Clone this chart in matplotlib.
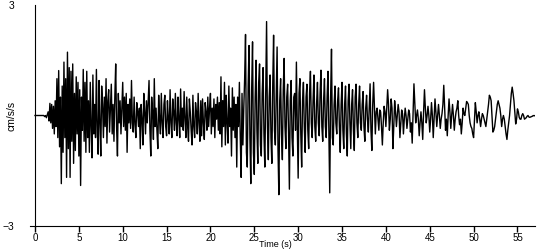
import numpy as np
import matplotlib.pyplot as plt

plt.rcParams['font.family'] = ['Liberation Sans', 'DejaVu Sans']

# ==========================
# Data (cm/s/s), one sample every 0.1 s, one row per second
# ==========================
dt = 0.1
accel = [
    0, 0, 0, 0, 0, 0, 0, 0, 0, 0,
    0.0, -0.03, 0.0, -0.06, 0.02, 0.1, -0.15, 0.33, -0.2, 0.3,
    -0.35, 0.25, -0.5, 0.4, -0.3, 1.0, -0.6, 1.22, -0.85, 0.5,
    -1.85, 0.8, -1.0, 1.45, -0.6, 1.0, -1.68, 1.72, -0.9, 1.3,
    -1.68, 1.2, -0.7, 1.4, -1.3, 0.6, -0.95, 1.05, -0.5, 0.9,
    -1.1, 0.7, -1.9, 0.5, -0.4, 1.25, -0.7, 0.9, -1.0, 1.2,
    -0.6, 0.4, -1.0, 0.9, -0.3, -1.15, 1.1, -0.5, 0.3, -0.6,
    1.25, -0.4, -1.05, 0.95, -0.2, -1.1, 0.8, 0.3, -0.6, 0.5,
    -0.3, 1.0, -0.75, 0.4, 0.7, -0.45, 0.2, 0.85, -0.5, 0.3,
    -0.7, 0.5, 1.4, -0.3, -1.1, 0.6, -0.2, 0.4, -0.5, 0.2,
    0.9, -0.3, 0.5, -0.4, 0.6, -1.0, 0.3, -0.2, 0.45, -0.35,
    0.95, -0.2, -0.45, 0.5, -0.25, -0.6, 0.35, 0.1, -0.3, 0.2,
    -0.9, 0.3, -0.1, -0.8, 0.6, 0.1, -0.5, 0.4, -0.2, 0.35,
    0.95, -0.4, -1.1, 0.5, 0.1, -0.65, 1.0, -0.3, 0.2, -0.4,
    -0.9, 0.55, -0.1, -0.5, 0.6, -0.2, -0.6, 0.3, 0.55, -0.3,
    -0.55, 0.4, -0.1, -0.5, 0.7, -0.2, -0.6, 0.45, 0.1, -0.4,
    0.6, -0.2, -0.55, 0.5, -0.1, -0.6, 0.72, -0.3, 0.2, -0.4,
    0.65, -0.1, -0.6, 0.5, -0.3, -0.7, 0.45, 0.1, -0.4, -0.8,
    0.55, -0.3, -0.6, 0.35, 0.1, -0.5, 0.6, -0.2, -0.7, 0.4,
    -0.55, 0.45, -0.2, -0.65, 0.35, 0.1, -0.4, 0.5, -0.3, 0.2,
    0.6, -0.5, 0.2, -0.3, 0.45, -0.6, 0.3, -0.1, 0.5, -0.4,
    0.35, -0.5, 1.05, -0.85, 0.4, -0.3, 0.9, -0.8, 0.55, -0.2,
    -0.75, 0.8, -0.3, 0.2, -1.1, 0.75, -0.4, 0.5, -0.6, 0.3,
    -1.4, 0.5, -0.3, 0.9, -0.6, -1.68, 0.6, -0.8, 0.2, 1.0,
    2.2, -1.0, -1.4, 0.8, 1.9, -0.6, -1.85, 0.7, 2.0, -1.0,
    -1.6, 0.5, 1.5, -0.4, -1.3, 0.9, 1.4, -0.8, -1.1, 0.6,
    1.3, -0.5, -1.4, 0.6, 2.55, -0.3, -1.2, 0.5, 1.1, -0.6,
    -1.3, 0.8, 2.18, -0.4, -0.8, 0.6, 1.86, -0.9, -2.15, 0.4,
    1.0, -0.5, -1.2, 0.7, 1.55, -0.3, -0.9, 0.5, 0.85, -0.4,
    -2.0, 0.4, 0.95, -0.6, -1.1, 0.5, 0.6, -0.4, 1.45, -0.3,
    -1.7, 0.6, 1.0, -0.5, -1.4, 0.4, 0.9, -0.3, -1.0, 0.5,
    0.85, -0.4, -0.9, 0.6, 1.2, -0.2, -0.6, 0.4, 1.1, -0.3,
    -0.7, 0.3, 0.9, -0.2, -0.55, 0.6, 1.23, -0.3, -0.7, 0.4,
    1.0, -0.3, -0.6, 0.5, 1.2, -0.4, -2.1, 0.5, 1.8, -0.6,
    -0.8, 0.3, 0.8, -0.2, -0.5, 0.4, 0.75, -0.3, -1.0, 0.3,
    0.9, -0.4, -0.9, 0.3, 0.8, -0.5, -1.1, 0.4, 0.85, -0.2,
    -0.9, 0.3, 0.7, -0.4, -0.95, 0.5, 0.85, -0.2, -0.6, 0.3,
    0.8, -0.2, -0.4, 0.3, 0.65, -0.3, -0.7, 0.2, 0.55, -0.1,
    -0.45, 0.2, 0.86, -0.4, -0.95, 0.3, 0.9, 0.2, -0.5, 0.1,
    0.2, -0.1, -0.4, 0.15, 0.1, -0.3, -0.8, -0.2, 0.25, 0.1,
    -0.3, 0.2, 0.7, 0.3, -0.4, -0.1, 0.45, 0.2, -0.9, -0.3,
    0.4, 0.1, -0.3, 0.0, 0.3, 0.1, -0.6, -0.2, 0.15, 0.05,
    -0.5, -0.1, 0.2, 0.0, -0.35, -0.1, 0.15, 0.05, -0.45, -0.2,
    -0.75, 0.1, 0.86, 0.3, -0.2, 0.0, 0.15, -0.1, -0.55, -0.2,
    0.1, -0.2, -0.65, 0.1, 0.7, 0.2, -0.2, 0.0, 0.25, 0.0,
    -0.45, -0.1, 0.35, 0.0, -0.6, -0.1, 0.45, 0.1, -0.3, 0.0,
    0.3, 0.0, -0.35, -0.1, 0.05, 0.3, 0.82, 0.2, -0.4, -0.1,
    -0.55, 0.0, 0.45, 0.1, -0.35, 0.0, 0.3, 0.0, -0.4, -0.1,
    0.1, 0.2, 0.4, 0.0, -0.25, -0.1, -0.5, -0.2, 0.2, 0.05,
    0.0, 0.2, 0.38, 0.35, 0.3, 0.0, -0.2, -0.3, -0.35, -0.5,
    -0.6, -0.1, 0.35, 0.1, -0.2, 0.0, 0.1, -0.1, -0.3, -0.1,
    0.05, 0.0, -0.1, -0.2, -0.3, -0.1, 0.1, 0.3, 0.55, 0.5,
    0.4, 0.0, -0.45, -0.4, -0.3, -0.1, 0.1, 0.3, 0.4, 0.3,
    0.2, 0.0, -0.3, -0.1, 0.0, -0.1, -0.3, -0.5, -0.65, -0.4,
    -0.2, 0.0, 0.3, 0.6, 0.77, 0.6, 0.4, 0.1, -0.23, -0.1,
    0.18, 0.1, -0.05, -0.1, -0.1, 0.0, 0.05, 0.0, -0.1, -0.08,
    -0.06, -0.02, 0.0, -0.04, -0.05, -0.04, -0.03, -0.02, 0.0, -0.01,
    0.0,
]
time = np.arange(len(accel)) * dt

x_ticks = [0, 5, 10, 15, 20, 25, 30, 35, 40, 45, 50, 55]
y_ticks = [-3, 3]

# ==========================
# Plot
# ==========================
fig = plt.figure(figsize=(5.5, 2.5), dpi=100)
ax = fig.add_axes([30 / 550, 24 / 250, 505 / 550, 221 / 250])

ax.plot(time, accel, color='black', linewidth=1.0)

ax.set_xlim(-0.57, 57.0)
ax.set_ylim(-3, 3)

ax.spines['top'].set_visible(False)
ax.spines['right'].set_visible(False)
ax.spines['left'].set_position(('data', 0))

ax.set_xticks(x_ticks)
ax.set_yticks(y_ticks)
ax.tick_params(axis='x', length=4, width=1, pad=1, labelsize=7)
ax.tick_params(axis='y', length=0, pad=15, labelsize=7.5)

ax.set_xlabel("Time (s)", fontsize=6.5, labelpad=0)
ax.xaxis.set_label_coords((275 - 30) / 505, -0.0633)
ax.set_ylabel("cm/s/s", fontsize=7.5)
ax.yaxis.set_label_coords(-0.026, 0.5)

fig.savefig("out.png", dpi=100)
